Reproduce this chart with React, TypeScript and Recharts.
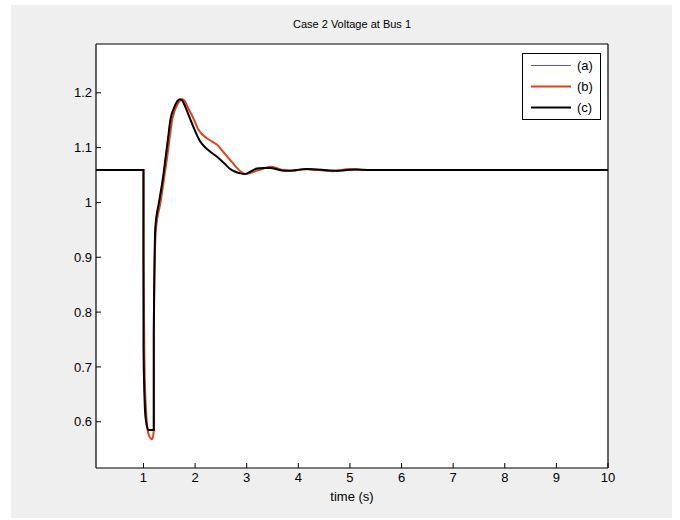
import React from 'react';
import { LineChart, Line, XAxis, YAxis, CartesianGrid } from 'recharts';

// time (s) and voltage (pu)
const timeC = [0.08, 1.0, 1.0, 1.015, 1.03, 1.06, 1.1, 1.2, 1.2, 1.23, 1.3, 1.37, 1.43, 1.48, 1.52, 1.59, 1.65, 1.7, 1.74, 1.78, 1.86, 1.94, 2.02, 2.1, 2.2, 2.3, 2.4, 2.49, 2.58, 2.68, 2.78, 2.88, 2.97, 3.07, 3.2, 3.33, 3.46, 3.6, 3.72, 3.85, 3.97, 4.17, 4.5, 4.8, 5.1, 5.4, 10];
const voltC = [1.059, 1.059, 0.74, 0.66, 0.62, 0.595, 0.585, 0.585, 0.76, 0.955, 1.0, 1.04, 1.083, 1.12, 1.15, 1.172, 1.184, 1.188, 1.187, 1.181, 1.163, 1.144, 1.126, 1.111, 1.1, 1.092, 1.085, 1.078, 1.07, 1.061, 1.056, 1.053, 1.052, 1.056, 1.062, 1.063, 1.063, 1.06, 1.058, 1.058, 1.059, 1.061, 1.059, 1.058, 1.06, 1.059, 1.059];

const timeB = [0.08, 1.0, 1.0, 1.02, 1.05, 1.08, 1.12, 1.17, 1.2, 1.2, 1.24, 1.33, 1.4, 1.46, 1.51, 1.555, 1.6, 1.652, 1.7, 1.75, 1.8, 1.85, 1.97, 2.07, 2.15, 2.23, 2.33, 2.43, 2.52, 2.62, 2.72, 2.81, 2.89, 2.97, 3.08, 3.2, 3.33, 3.46, 3.6, 3.72, 3.91, 4.1, 4.4, 4.68, 5.0, 5.3, 5.6, 10];
const voltB = [1.059, 1.059, 0.9, 0.7, 0.62, 0.585, 0.572, 0.568, 0.585, 0.77, 0.95, 1.0, 1.045, 1.083, 1.12, 1.15, 1.166, 1.178, 1.185, 1.188, 1.185, 1.175, 1.153, 1.132, 1.123, 1.117, 1.111, 1.105, 1.095, 1.084, 1.073, 1.063, 1.056, 1.052, 1.054, 1.058, 1.062, 1.065, 1.062, 1.059, 1.058, 1.061, 1.059, 1.057, 1.061, 1.059, 1.059, 1.059];

// (a) lies under (c)
const timeA = timeC;
const voltA = voltC;

const xTicks = [1, 2, 3, 4, 5, 6, 7, 8, 9, 10];
const yTicks = [0.6, 0.7, 0.8, 0.9, 1.0, 1.1, 1.2];

const toPoints = (ts: number[], vs: number[]) => ts.map((t, i) => ({ t, v: vs[i] }));
const seriesA = toPoints(timeA, voltA);
const seriesB = toPoints(timeB, voltB);
const seriesC = toPoints(timeC, voltC);

const legendItems = [
  { name: '(a)', color: '#5050ff', width: 1 },
  { name: '(b)', color: '#e2401a', width: 2 },
  { name: '(c)', color: '#000000', width: 2 },
];

const font = '"Liberation Sans", Arial, sans-serif';

function LegendBox() {
  return (
    <div style={{ position: 'absolute', left: 522, top: 53, width: 77, height: 64, border: '1px solid #000', background: '#fff', paddingTop: 1 }}>
      {legendItems.map((it) => (
        <div key={it.name} style={{ display: 'flex', alignItems: 'center', height: 21 }}>
          <svg width={40} height={3} style={{ marginLeft: 8 }}>
            <line x1={0} x2={40} y1={1.5} y2={1.5} stroke={it.color} strokeWidth={it.width} />
          </svg>
          <span style={{ marginLeft: 6, fontSize: 13, fontFamily: font, color: '#000' }}>{it.name}</span>
        </div>
      ))}
    </div>
  );
}

export default function App() {
  return (
    <div style={{ position: 'absolute', left: 0, top: 0, width: 680, height: 520, background: '#fff', fontFamily: font }}>
      <div style={{ position: 'absolute', left: 11, top: 5, width: 661, height: 513, background: '#efefef' }} />
      <div style={{ position: 'absolute', left: 96, width: 512, top: 18, textAlign: 'center', fontSize: 11, color: '#000' }}>
        Case 2 Voltage at Bus 1
      </div>
      <div style={{ position: 'absolute', left: 96, width: 512, top: 489, textAlign: 'center', fontSize: 13, color: '#000' }}>
        time (s)
      </div>
      <div style={{ position: 'absolute', left: 0, top: 0 }}>
        <LineChart width={680} height={520} margin={{ top: 43, right: 71, bottom: 51, left: 95 }}>
          <CartesianGrid horizontal={false} vertical={false} fill="#fff" />
          <XAxis
            dataKey="t"
            type="number"
            domain={[0.08, 10]}
            ticks={xTicks}
            allowDataOverflow
            height={1}
            tickSize={-5}
            tickMargin={10}
            axisLine={{ stroke: '#000', strokeWidth: 1.2 }}
            tickLine={{ stroke: '#000' }}
            tick={{ fill: '#000', fontSize: 13 }}
          />
          <XAxis
            xAxisId="top"
            orientation="top"
            type="number"
            domain={[0.08, 10]}
            ticks={xTicks}
            allowDataOverflow
            height={1}
            tickSize={-5}
            axisLine={{ stroke: '#000', strokeWidth: 1.2 }}
            tickLine={{ stroke: '#000' }}
            tick={false}
          />
          <YAxis
            type="number"
            domain={[0.5156, 1.289]}
            ticks={yTicks}
            allowDataOverflow
            width={1}
            tickSize={-5}
            tickMargin={9}
            tickFormatter={(v: number) => String(Math.round(v * 10) / 10)}
            axisLine={{ stroke: '#000', strokeWidth: 1.2 }}
            tickLine={{ stroke: '#000' }}
            tick={{ fill: '#000', fontSize: 13 }}
          />
          <YAxis
            yAxisId="r"
            orientation="right"
            type="number"
            domain={[0.5156, 1.289]}
            ticks={yTicks}
            allowDataOverflow
            width={1}
            tickSize={-5}
            axisLine={{ stroke: '#000', strokeWidth: 1.2 }}
            tickLine={{ stroke: '#000' }}
            tick={false}
          />
          <Line data={seriesA} dataKey="v" name="(a)" type="monotone" stroke="#5050ff" strokeWidth={1} dot={false} isAnimationActive={false} />
          <Line data={seriesB} dataKey="v" name="(b)" type="monotone" stroke="#e2401a" strokeWidth={2} dot={false} isAnimationActive={false} />
          <Line data={seriesC} dataKey="v" name="(c)" type="monotone" stroke="#000" strokeWidth={2} dot={false} isAnimationActive={false} />
        </LineChart>
      </div>
      <LegendBox />
    </div>
  );
}
